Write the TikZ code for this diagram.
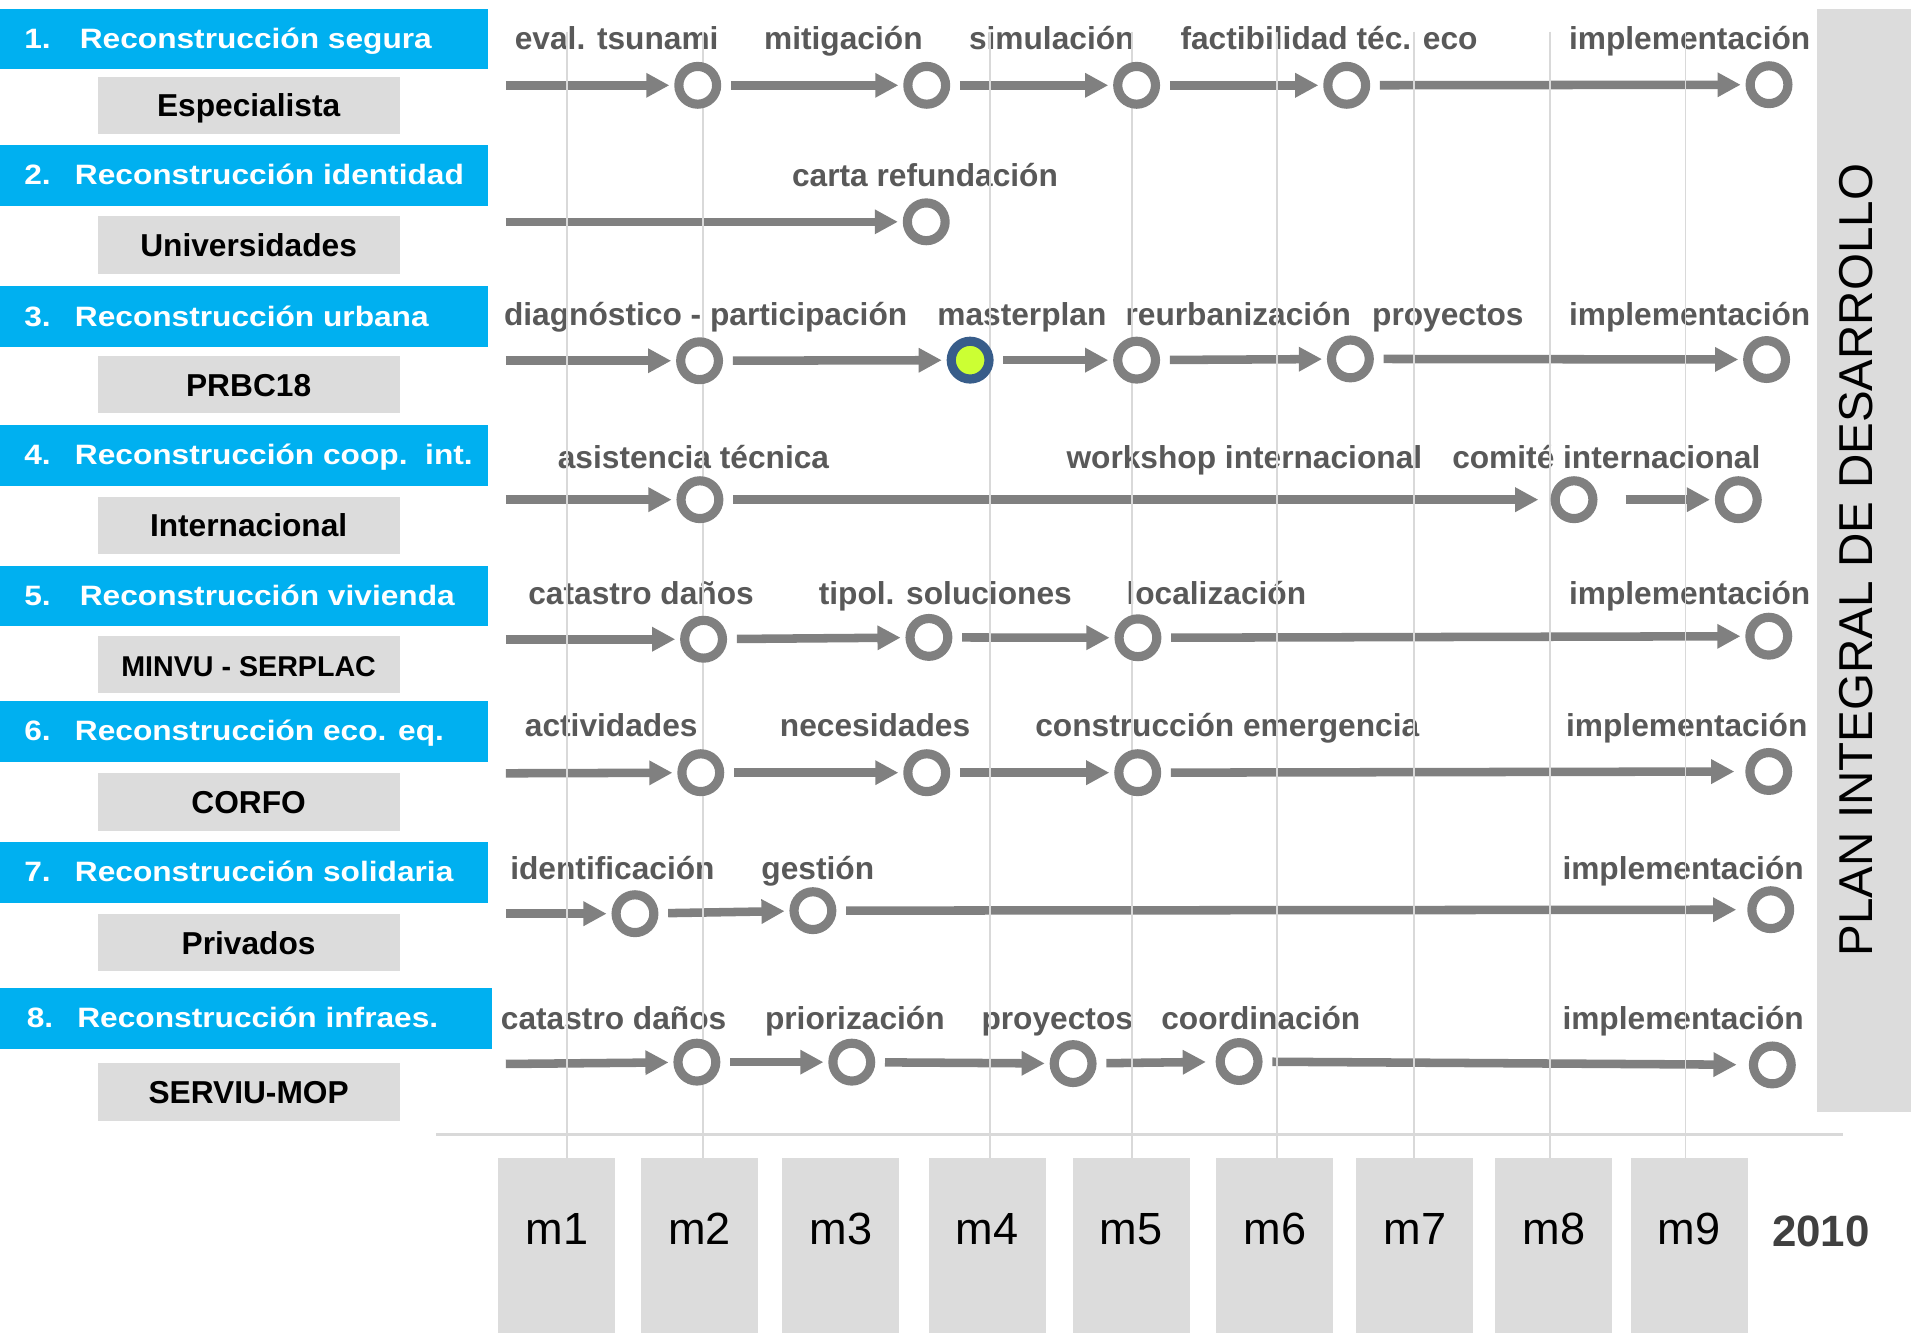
\documentclass[tikz,border=0pt]{standalone}
\usepackage{fontspec}
\setmainfont{Liberation Sans}
\newfontfamily\barfont{Liberation Sans}[FakeStretch=1.13]
\usetikzlibrary{arrows.meta}
\definecolor{barblue}{RGB}{0,176,240}
\definecolor{boxgray}{RGB}{220,220,220}
\definecolor{labgray}{RGB}{89,89,89}
\definecolor{arrgray}{RGB}{128,128,128}
\definecolor{gridgray}{RGB}{217,217,217}
\definecolor{ringblue}{RGB}{56,93,138}
\definecolor{lime}{RGB}{204,255,51}
\definecolor{yeargray}{RGB}{64,64,64}
\newcommand{\linea}[2]{\makebox[360pt][l]{\makebox[41.5pt][l]{#1}#2}}
\pgfdeclarelayer{rings}
\pgfsetlayers{main,rings}

\begin{document}
\begin{tikzpicture}[x=1pt,y=-1pt,
    bar/.style={fill=barblue, text=white, anchor=west, minimum width=400pt, minimum height=50pt,
      inner xsep=20pt, inner ysep=0pt, outer sep=0pt, text height=15pt, text depth=0pt,
      font=\barfont\bfseries\fontsize{23}{26}\selectfont},
    who/.style={fill=boxgray, minimum width=248pt, minimum height=47pt, inner sep=0pt,
      text height=19pt, text depth=0pt, font=\bfseries\fontsize{26}{30}\selectfont},
    hito/.style={circle, draw=arrgray, line width=7.5pt, fill=white, minimum size=31pt,
      inner sep=0pt, outer sep=3.75pt},
    meta/.style={hito, draw=ringblue, fill=lime},
    flecha/.style={draw=arrgray, line width=7pt, -{Triangle[length=19pt,width=19pt]},
      shorten <=8pt, shorten >=4pt},
    inicio/.style={flecha, shorten <=0pt},
    etiq/.style={anchor=base, text=labgray, inner sep=0pt, font=\bfseries\fontsize{26}{30}\selectfont},
    mes/.style={fill=boxgray, minimum width=96pt, minimum height=144pt, inner sep=0pt,
      text height=26.5pt, text depth=28pt, font=\fontsize{37}{42}\selectfont},
    anio/.style={anchor=base, inner sep=0pt, text=yeargray, font=\bfseries\fontsize{36}{40}\selectfont},
    band/.style={fill=boxgray, rotate=90, minimum width=905pt, minimum height=77pt, inner sep=0pt,
      text height=28pt, text depth=13.6pt, font=\fontsize{39}{44}\selectfont},
    rejilla/.style={draw=gridgray, line width=1.5pt}]
\path[use as bounding box, fill=white] (0,0) rectangle (1568,1094);

\node[bar] (b1) at (0,32) {\linea{1.}{\hspace{4pt}Reconstrucción segura}};
\node[bar] (b2) at (0,144) {\linea{2.}{Reconstrucción identidad}};
\node[bar] (b3) at (0,260) {\linea{3.}{Reconstrucción urbana}};
\node[bar] (b4) at (0,374) {\linea{4.}{Reconstrucción coop.~~int.}};
\node[bar] (b5) at (0,489) {\linea{5.}{\hspace{4pt}Reconstrucción vivienda}};
\node[bar] (b6) at (0,600) {\linea{6.}{Reconstrucción eco. eq.}};
\node[bar] (b7) at (0,716) {\linea{7.}{Reconstrucción solidaria}};
\node[bar, minimum width=404pt] (b8) at (0,835.5) {\linea{8.}{Reconstrucción infraes.}};

\node[who] (w1) at (204,86.5) {Especialista};
\node[who] (w2) at (204,201) {Universidades};
\node[who] (w3) at (204,315.5) {PRBC18};
\node[who] (w4) at (204,431) {Internacional};
\node[who, font=\bfseries\fontsize{23.5}{28}\selectfont] (w5) at (204,545.5) {MINVU - SERPLAC};
\node[who] (w6) at (204,658) {CORFO};
\node[who] (w7) at (204,773.5) {Privados};
\node[who] (w8) at (204,896) {SERVIU-MOP};

\begin{pgfonlayer}{rings}
\node[hito] (c11) at (572.5,70) {};
\node[hito] (c12) at (760.4,70) {};
\node[hito] (c13) at (932.6,70) {};
\node[hito] (c14) at (1105,70) {};
\node[hito] (c15) at (1451.5,69.5) {};
\node[hito] (c21) at (760,182) {};
\node[hito] (c31) at (574,296) {};
\node[meta] (c32) at (796,295.5) {};
\node[hito] (c33) at (932.6,295.5) {};
\node[hito] (c34) at (1108,294.5) {};
\node[hito] (c35) at (1449.5,295) {};
\node[hito] (c41) at (574.3,410) {};
\node[hito] (c42) at (1291.5,410) {};
\node[hito] (c43) at (1426.3,410) {};
\node[hito] (c51) at (577.3,524.5) {};
\node[hito] (c52) at (762.2,523) {};
\node[hito] (c53) at (933.7,523.3) {};
\node[hito] (c54) at (1451.3,522) {};
\node[hito] (c61) at (575,634) {};
\node[hito] (c62) at (760.4,634) {};
\node[hito] (c63) at (933.5,634) {};
\node[hito] (c64) at (1451.3,633) {};
\node[hito] (c71) at (521,749.7) {};
\node[hito] (c72) at (667,747.2) {};
\node[hito] (c73) at (1452.9,746.4) {};
\node[hito] (c81) at (571.8,871.5) {};
\node[hito] (c82) at (698.9,871.5) {};
\node[hito] (c83) at (880.5,872.7) {};
\node[hito] (c84) at (1016.7,871) {};
\node[hito] (c85) at (1454.2,873.8) {};
\end{pgfonlayer}

\coordinate (s1) at (415,70);
\coordinate (s2) at (415,182);
\coordinate (s3) at (415,296);
\coordinate (s4) at (415,410);
\coordinate (s5) at (415,524.5);
\coordinate (s6) at (415,634.5);
\coordinate (s7) at (415,749.7);
\coordinate (s8) at (415,873);

\draw[inicio] (s1) -- (c11);
\draw[flecha] (c11) -- (c12);
\draw[flecha] (c12) -- (c13);
\draw[flecha] (c13) -- (c14);
\draw[flecha] (c14) -- (c15);
\draw[inicio] (s2) -- (c21);
\draw[inicio] (s3) -- (c31);
\draw[flecha] (c31) -- (c32);
\draw[flecha] (c32) -- (c33);
\draw[flecha] (c33) -- (c34);
\draw[flecha] (c34) -- (c35);
\draw[inicio] (s4) -- (c41);
\draw[flecha, shorten >=10pt] (c41) -- (c42);
\draw[flecha, shorten <=23pt] (c42) -- (c43);
\draw[inicio] (s5) -- (c51);
\draw[flecha] (c51) -- (c52);
\draw[flecha] (c52) -- (c53);
\draw[flecha] (c53) -- (c54);
\draw[inicio] (s6) -- (c61);
\draw[flecha] (c61) -- (c62);
\draw[flecha] (c62) -- (c63);
\draw[flecha, shorten >=9pt] (c63) -- (c64);
\draw[inicio] (s7) -- (c71);
\draw[flecha] (c71) -- (c72);
\draw[flecha, shorten >=9pt] (c72) -- (c73);
\draw[inicio] (s8) -- (c81);
\draw[flecha] (c81) -- (c82);
\draw[flecha] (c82) -- (c83);
\draw[flecha, shorten >=8pt] (c83) -- (c84);
\draw[flecha, shorten >=10pt] (c84) -- (c85);

\node[etiq] (e11) at (506,40.5) {eval. tsunami};
\node[etiq] (e12) at (692,40.5) {mitigación};
\node[etiq] (e13) at (863,40.5) {simulación};
\node[etiq] (e14) at (1090.5,40.5) {factibilidad téc. eco};
\node[etiq] (e15) at (1386.4,40.5) {implementación};
\node[etiq] (e21) at (759,153) {carta refundación};
\node[etiq] (e31) at (579,267) {diagnóstico - participación};
\node[etiq] (e32) at (838.5,267) {masterplan};
\node[etiq] (e33) at (1016,267) {reurbanización};
\node[etiq] (e34) at (1188,267) {proyectos};
\node[etiq] (e35) at (1386.4,267) {implementación};
\node[etiq] (e41) at (569,384) {asistencia técnica};
\node[etiq] (e42) at (1021,384) {workshop internacional};
\node[etiq] (e43) at (1318,384) {comité internacional};
\node[etiq] (e51) at (526,496) {catastro daños};
\node[etiq] (e52) at (775.6,496) {tipol. soluciones};
\node[etiq] (e53) at (998,496) {localización};
\node[etiq] (e54) at (1386.4,496) {implementación};
\node[etiq] (e61) at (501.5,604.5) {actividades};
\node[etiq] (e62) at (718,604.5) {necesidades};
\node[etiq] (e63) at (1007,604.5) {construcción emergencia};
\node[etiq] (e64) at (1384,604.5) {implementación};
\node[etiq] (e71) at (502.5,721.5) {identificación};
\node[etiq] (e72) at (671,721.5) {gestión};
\node[etiq] (e73) at (1381,721.5) {implementación};
\node[etiq] (e81) at (503.5,844.5) {catastro daños};
\node[etiq] (e82) at (701.4,844.5) {priorización};
\node[etiq] (e83) at (867.5,844.5) {proyectos};
\node[etiq] (e84) at (1034.5,844.5) {coordinación};
\node[etiq] (e85) at (1381,844.5) {implementación};

\node[mes] (m1) at (457,1022) {m1};
\node[mes] (m2) at (574,1022) {m2};
\node[mes] (m3) at (690,1022) {m3};
\node[mes] (m4) at (810,1022) {m4};
\node[mes] (m5) at (928,1022) {m5};
\node[mes] (m6) at (1046,1022) {m6};
\node[mes] (m7) at (1161,1022) {m7};
\node[mes] (m8) at (1275,1022) {m8};
\node[mes] (m9) at (1386,1022) {m9};
\node[anio] (yr) at (1494,1022.9) {2010};

\foreach \x in {465,577,812,929,1048,1160,1272,1383}
  \draw[rejilla] (\x,26) -- (\x,950);
\draw[rejilla, line width=2pt] (358,931) -- (1512,931);

\node[band] (plan) at (1529.5,459.5) {PLAN INTEGRAL DE DESARROLLO};
\end{tikzpicture}
\end{document}
